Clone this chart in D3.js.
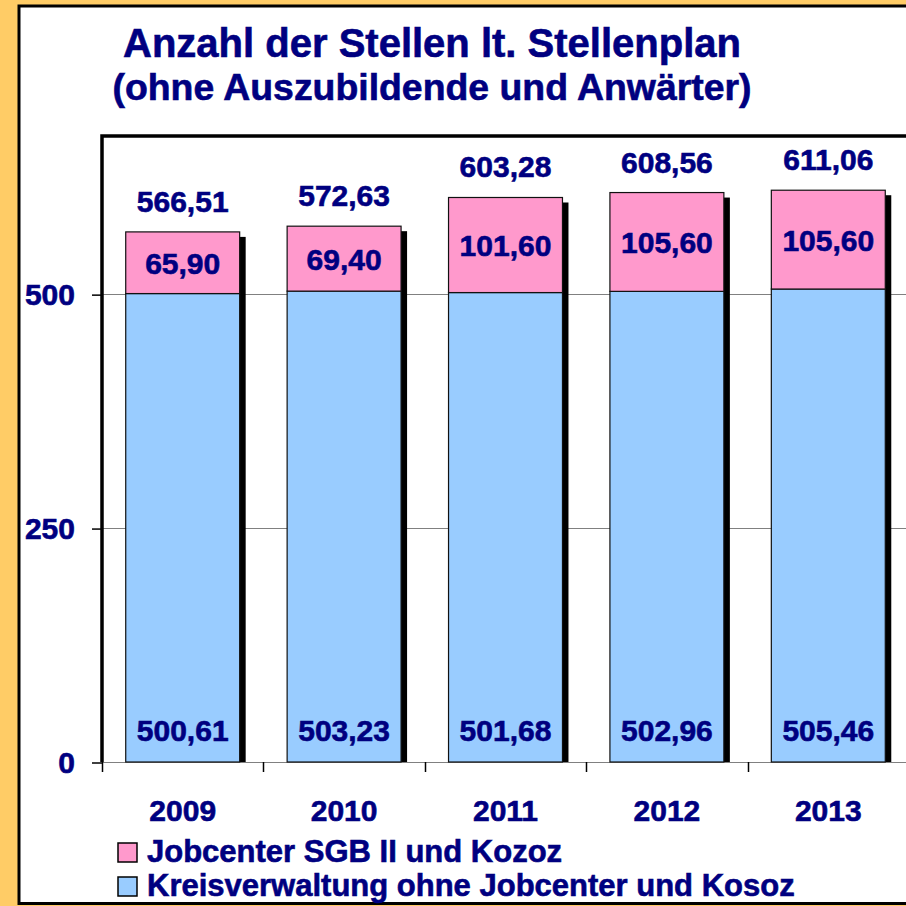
<!DOCTYPE html>
<html>
<head>
<meta charset="utf-8">
<script src="https://cdn.jsdelivr.net/npm/d3@7"></script>
<style>
  body { margin: 0; background: #ffcc66; }
  svg { display: block; }
  svg text { stroke: #000080; stroke-width: 0.6px; }
</style>
</head>
<body>
<div id="chart"></div>
<script>
// Chart data
var years = ["2009", "2010", "2011", "2012", "2013"];
var kreisverwaltung = [500.61, 503.23, 501.68, 502.96, 505.46];
var jobcenter = [65.90, 69.40, 101.60, 105.60, 105.60];
var yTicks = [0, 250, 500];
var seriesNames = ["Jobcenter SGB II und Kozoz", "Kreisverwaltung ohne Jobcenter und Kosoz"];

var svgWidth = 906;
var svgHeight = 906;
var navy = "#000080";
var pink = "#ff99cc";
var blue = "#99ccff";
var font = "'Liberation Sans', Arial, sans-serif";

// plot area in pixels
var plot = { left: 102, top: 136, right: 909, bottom: 762 };

var svg = d3.select("#chart")
    .append("svg")
    .attr("width", svgWidth)
    .attr("height", svgHeight)
    .style("font-family", font)
    .style("font-weight", "bold");

// orange background and white panel
svg.append("rect")
    .attr("width", svgWidth)
    .attr("height", svgHeight)
    .attr("fill", "#ffcc66");

svg.append("rect")
    .attr("x", 19)
    .attr("y", 6)
    .attr("width", 920)
    .attr("height", 897.5)
    .attr("fill", "white")
    .attr("stroke", "black")
    .attr("stroke-width", 3);

// comma as decimal separator
var locale = d3.formatLocale({ decimal: ",", thousands: ".", grouping: [3], currency: ["", "€"] });
var fmt = locale.format(".2f");

var rows = years.map(function(year, i) {
    return { year: year, kreis: kreisverwaltung[i], job: jobcenter[i], total: kreisverwaltung[i] + jobcenter[i] };
});

var xScale = d3.scaleBand()
    .domain(years)
    .range([plot.left, plot.right])
    .paddingInner(0.294)
    .paddingOuter(0.147);

var yScale = d3.scaleLinear()
    .domain([0, 669])
    .range([plot.bottom, plot.top]);

// gridlines
svg.append("g")
    .selectAll("line")
    .data(yTicks)
    .enter()
    .append("line")
    .attr("x1", plot.left)
    .attr("x2", svgWidth)
    .attr("y1", d => Math.round(yScale(d)) + 0.5)
    .attr("y2", d => Math.round(yScale(d)) + 0.5)
    .attr("stroke", "#808080")
    .attr("stroke-width", 1);

var bw = xScale.bandwidth();

// shadows
svg.append("g")
    .selectAll("rect")
    .data(rows)
    .enter()
    .append("rect")
    .attr("x", d => xScale(d.year) + 6)
    .attr("y", d => yScale(d.total) + 5)
    .attr("width", bw)
    .attr("height", d => plot.bottom - yScale(d.total) - 5)
    .attr("fill", "black");

// blue segment
svg.append("g")
    .selectAll("rect")
    .data(rows)
    .enter()
    .append("rect")
    .attr("x", d => xScale(d.year))
    .attr("y", d => yScale(d.kreis))
    .attr("width", bw)
    .attr("height", d => yScale(0) - yScale(d.kreis))
    .attr("fill", blue)
    .attr("stroke", "#111")
    .attr("stroke-width", 1.2);

// pink segment
svg.append("g")
    .selectAll("rect")
    .data(rows)
    .enter()
    .append("rect")
    .attr("x", d => xScale(d.year))
    .attr("y", d => yScale(d.total))
    .attr("width", bw)
    .attr("height", d => yScale(d.kreis) - yScale(d.total))
    .attr("fill", pink)
    .attr("stroke", "#111")
    .attr("stroke-width", 1.2);

// plot frame: left and top
svg.append("path")
    .attr("d", `M${plot.left},${plot.bottom} V${plot.top} H${svgWidth + 5}`)
    .attr("fill", "none")
    .attr("stroke", "black")
    .attr("stroke-width", 3.5);

// y axis
var leftAxis = d3.axisLeft(yScale)
    .tickValues(yTicks)
    .tickSize(10)
    .tickPadding(17)
    .tickFormat(d3.format("d"));

var yAxisGroup = svg.append("g")
    .attr("transform", `translate(${plot.left}, 0.5)`)
    .call(leftAxis);
yAxisGroup.select(".domain").remove();
yAxisGroup.selectAll("line").attr("stroke", "black").attr("stroke-width", 1.5);
yAxisGroup.selectAll("text")
    .attr("fill", navy)
    .attr("font-size", "30px")
    .attr("font-family", font)
    .attr("font-weight", "bold");

// x axis labels
var bottomAxis = d3.axisBottom(xScale)
    .tickSize(0)
    .tickPadding(38);

var xAxisGroup = svg.append("g")
    .attr("transform", `translate(0, ${plot.bottom})`)
    .call(bottomAxis);
xAxisGroup.select(".domain").remove();
xAxisGroup.selectAll("text")
    .attr("fill", navy)
    .attr("font-size", "30px")
    .attr("font-family", font)
    .attr("font-weight", "bold");

// x ticks at category boundaries
var step = xScale.step();
var boundaries = years.map(d => xScale(d) - step * xScale.paddingInner() / 2);
boundaries.push(boundaries[boundaries.length - 1] + step);
svg.append("g")
    .selectAll("line")
    .data(boundaries)
    .enter()
    .append("line")
    .attr("x1", d => Math.round(d) + 0.5)
    .attr("x2", d => Math.round(d) + 0.5)
    .attr("y1", plot.bottom)
    .attr("y2", plot.bottom + 10)
    .attr("stroke", "black")
    .attr("stroke-width", 1.5);

// value labels
var labels = svg.append("g")
    .attr("fill", navy)
    .attr("font-size", "30px")
    .attr("text-anchor", "middle");

labels.selectAll(".total")
    .data(rows)
    .enter()
    .append("text")
    .attr("class", "total")
    .attr("x", d => xScale(d.year) + bw / 2)
    .attr("y", d => yScale(d.total) - 20)
    .text(d => fmt(d.total));

labels.selectAll(".job")
    .data(rows)
    .enter()
    .append("text")
    .attr("class", "job")
    .attr("x", d => xScale(d.year) + bw / 2)
    .attr("y", d => (yScale(d.total) + yScale(d.kreis)) / 2 + 11)
    .text(d => fmt(d.job));

labels.selectAll(".kreis")
    .data(rows)
    .enter()
    .append("text")
    .attr("class", "kreis")
    .attr("x", d => xScale(d.year) + bw / 2)
    .attr("y", yScale(0) - 21)
    .text(d => fmt(d.kreis));

// title
svg.append("text")
    .attr("x", 432)
    .attr("y", 57)
    .attr("text-anchor", "middle")
    .attr("fill", navy)
    .attr("font-size", "40px")
    .text("Anzahl der Stellen lt. Stellenplan");

svg.append("text")
    .attr("x", 432)
    .attr("y", 100)
    .attr("text-anchor", "middle")
    .attr("fill", navy)
    .attr("font-size", "36px")
    .attr("textLength", 639)
    .attr("lengthAdjust", "spacingAndGlyphs")
    .text("(ohne Auszubildende und Anwärter)");

// legend
var legendColors = [pink, blue];
var legend = svg.append("g");
var items = legend.selectAll("g")
    .data(seriesNames)
    .enter()
    .append("g")
    .attr("transform", (d, i) => `translate(118, ${843 + i * 34})`);

items.append("rect")
    .attr("width", 19)
    .attr("height", 19)
    .attr("fill", (d, i) => legendColors[i])
    .attr("stroke", "black")
    .attr("stroke-width", 1.5);

items.append("text")
    .attr("x", 29)
    .attr("y", 19)
    .attr("fill", navy)
    .attr("font-size", "31px")
    .text(d => d);
</script>
</body>
</html>
